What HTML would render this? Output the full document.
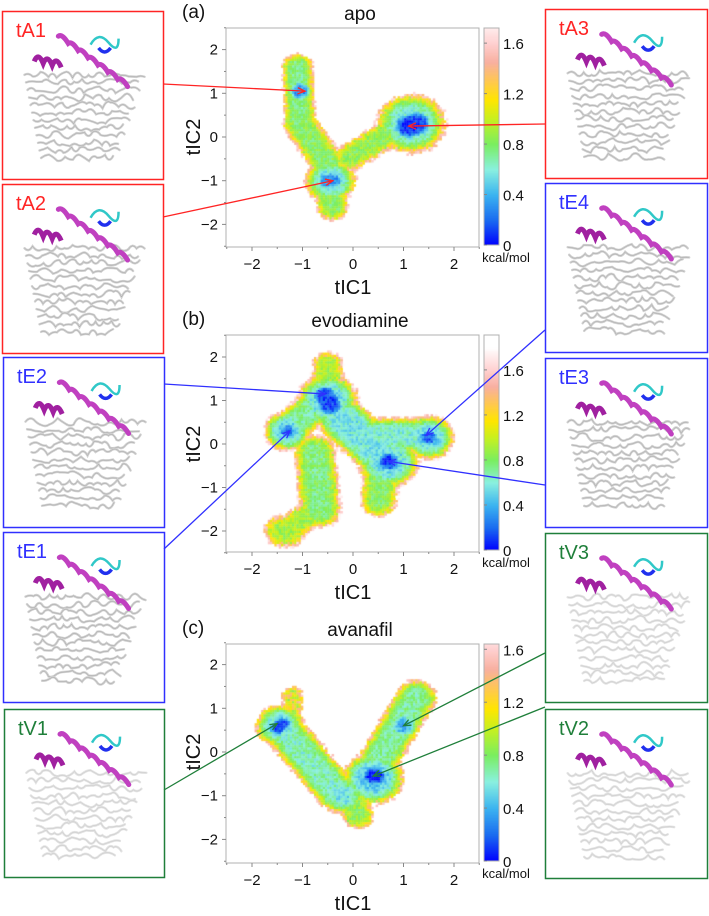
<!DOCTYPE html>
<html><head><meta charset="utf-8">
<style>
html,body{margin:0;padding:0;background:#fff;}
#fig{position:relative;width:709px;height:916px;overflow:hidden;font-family:"Liberation Sans",Arial,sans-serif;}
canvas{position:absolute;}
svg{position:absolute;left:0;top:0;}
</style></head>
<body>
<div id="fig">
<canvas id="hmA"></canvas>
<canvas id="hmB"></canvas>
<canvas id="hmC"></canvas>
<canvas id="cbA"></canvas>
<canvas id="cbB"></canvas>
<canvas id="cbC"></canvas>
<svg id="ov" width="709" height="916"></svg>
</div>
<script>
// ---- data ----
// segments: x1,y1,x2,y2 (tIC units), radius, minimum free energy (kcal/mol)
const apoSegments=[
 [-1.1,1.6,-1.05,0.4,0.3,0.75],[-1.05,1.05,-1.05,1.05,0.25,0.3],
 [-1.05,0.3,-0.5,-0.6,0.33,0.8],[-0.45,-1.0,-0.45,-1.0,0.5,0.55],
 [-0.5,-1.0,-0.4,-1.0,0.25,0.3],[-0.45,-1.3,-0.4,-1.6,0.3,0.8],
 [-0.05,-0.45,0.65,0.05,0.3,0.85],[1.15,0.3,1.15,0.3,0.68,0.55],
 [1.1,0.25,1.25,0.3,0.35,0.08]];
const evoSegments=[
 [-0.5,1.0,-0.5,1.0,0.6,0.5],[-0.55,1.1,-0.45,0.9,0.3,0.12],[-0.5,1.5,-0.5,1.8,0.3,0.9],
 [-1.3,0.3,-1.3,0.3,0.45,0.5],[-1.3,0.3,-1.3,0.3,0.2,0.2],[-1.3,0.35,-0.7,0.9,0.38,0.7],
 [-0.2,0.55,0.6,-0.3,0.5,0.55],[0.7,-0.4,0.7,-0.4,0.6,0.5],[0.7,-0.4,0.7,-0.4,0.28,0.12],
 [0.6,-0.5,0.5,-1.3,0.35,0.8],[1.5,0.15,1.5,0.15,0.5,0.5],[1.5,0.15,1.5,0.15,0.22,0.15],
 [0.5,0.2,1.3,0.2,0.4,0.6],[-0.75,-0.2,-0.65,-1.5,0.4,0.75],
 [-0.7,-1.5,-1.2,-1.9,0.3,0.9],[-1.4,-2.0,-1.3,-2.0,0.35,0.9]];
const avaSegments=[
 [-1.45,0.6,-1.45,0.6,0.48,0.55],[-1.5,0.55,-1.4,0.65,0.2,0.15],
 [-1.3,0.4,-0.3,-0.95,0.42,0.65],[-0.2,-1.0,-0.2,-1.0,0.4,0.55],
 [0.0,-1.2,0.1,-1.45,0.3,0.85],[0.4,-0.6,0.4,-0.6,0.6,0.45],[0.4,-0.55,0.45,-0.55,0.25,0.05],
 [0.5,-0.2,1.25,1.25,0.4,0.7],[1.0,0.6,1.0,0.6,0.3,0.4],[-1.2,0.9,-1.2,1.3,0.2,1.1]];
const colorMax=[1.72,1.91,1.64];
const cbTicks=[0,0.4,0.8,1.2,1.6];
const axisTicks=[-2,-1,0,1,2];
const panelTitles=["apo","evodiamine","avanafil"];
const panelLetters=["(a)","(b)","(c)"];
// ---- layout ----
const PX0=226,PX1=479,XZ=353,XU=50.5;
const panels=[{top:28,bot:247,yz:137,yu:43.7},{top:335,bot:552,yz:444,yu:43.5},{top:644,bot:863,yz:752,yu:43.7}];
const stops=[[0,'#0000ff'],[0.2,'#1a6cf0'],[0.4,'#3cb4f0'],[0.6,'#8af0e0'],[0.8,'#7aee60'],[1.0,'#c8f020'],[1.15,'#ffe600'],[1.3,'#ffc850'],[1.45,'#f8b0a0'],[1.6,'#ffd0d0'],[1.8,'#ffffff']];
function hex(c){return [parseInt(c.substr(1,2),16),parseInt(c.substr(3,2),16),parseInt(c.substr(5,2),16)];}
function cmap(v){if(v<=0)return hex(stops[0][1]);for(let i=1;i<stops.length;i++){if(v<=stops[i][0]){const a=stops[i-1],b=stops[i],t=(v-a[0])/(b[0]-a[0]);const ca=hex(a[1]),cb=hex(b[1]);return ca.map((x,k)=>Math.round(x+(cb[k]-x)*t));}}return [255,255,255];}
function hash(i,j,s){let h=(i*374761393+j*668265263+s*2147483647)|0;h=(h^(h>>>13))*1274126177|0;h=h^(h>>>16);return ((h>>>0)%10000)/10000;}
function segDist(px,py,s){const dx=s[2]-s[0],dy=s[3]-s[1];const L=dx*dx+dy*dy;let t=L?((px-s[0])*dx+(py-s[1])*dy)/L:0;t=Math.max(0,Math.min(1,t));const qx=s[0]+t*dx-px,qy=s[1]+t*dy-py;return Math.sqrt(qx*qx+qy*qy);}
function energy(segs,x,y){let e=99;for(const s of segs){const d=segDist(x,y,s)/s[4];const v=s[5]+(1.55-s[5])*d*d*d*d;if(v<e)e=v;}return e;}
function drawHeat(id,segs,p,k){
 const c=document.getElementById(id);const w=PX1-PX0,h=p.bot-p.top;c.width=w;c.height=h;c.style.left=PX0+'px';c.style.top=p.top+'px';
 const ctx=c.getContext('2d');const cell=2.2;
 for(let i=0;i*cell<w;i++)for(let j=0;j*cell<h;j++){
  const x=(PX0+i*cell+1-XZ)/XU,y=(p.yz-(p.top+j*cell+1))/p.yu;
  let e=energy(segs,x,y);if(e>3)continue;const n=hash(i,j,k+1);e+=(n-0.5)*(e>1.1?0.6:0.25);
  if(e>colorMax[k]-0.05)continue;
  const col=cmap(e);ctx.fillStyle='rgb('+col.join(',')+')';ctx.fillRect(i*cell,j*cell,cell+0.3,cell+0.3);}
}
function drawCB(id,p,k){
 const c=document.getElementById(id);c.width=15;c.height=p.bot-p.top-2;c.style.left='484px';c.style.top=p.top+'px';
 const ctx=c.getContext('2d');for(let j=0;j<c.height;j++){const v=colorMax[k]*(1-j/c.height);ctx.fillStyle='rgb('+cmap(v).join(',')+')';ctx.fillRect(0,j,15,1);}
}
const segsAll=[apoSegments,evoSegments,avaSegments];
['hmA','hmB','hmC'].forEach((id,k)=>drawHeat(id,segsAll[k],panels[k],k));
['cbA','cbB','cbC'].forEach((id,k)=>drawCB(id,panels[k],k));
// ---- SVG overlay ----
const NS='http://www.w3.org/2000/svg';const ov=document.getElementById('ov');
function mk(tag,attrs,parent,txt){const e=document.createElementNS(NS,tag);for(const a in attrs)e.setAttribute(a,attrs[a]);if(txt!==undefined)e.textContent=txt;(parent||ov).appendChild(e);return e;}
panels.forEach((p,k)=>{
 const g=mk('g',{});
 
 
 const fr=mk('rect',{x:PX0,y:p.top,width:PX1-PX0,height:p.bot-p.top,fill:'none',stroke:'#b0b0b0','stroke-width':1},g);
 
 
 const cbf=mk('rect',{x:484,y:p.top,width:15,height:p.bot-p.top-2,fill:'none',stroke:'#b0b0b0','stroke-width':1},g);
 
 
 for(let v=-2.5;v<=2.5;v+=0.5){const x=XZ+v*XU,y=p.yz-v*p.yu;const maj=Number.isInteger(v);
  mk('line',{x1:x,y1:p.bot,x2:x,y2:p.bot+(maj?4:2),stroke:'#888'},g);
  mk('line',{x1:PX0,y1:y,x2:PX0-(maj?4:2),y2:y,stroke:'#888'},g);}
 axisTicks.forEach(v=>{
  const t=mk('text',{x:XZ+v*XU,y:p.bot+22,'text-anchor':'middle','font-size':15,fill:'#111'},g,v<0?'\u2212'+(-v):String(v));
  
  
  const t2=mk('text',{x:PX0-8,y:p.yz-v*p.yu+5,'text-anchor':'end','font-size':15,fill:'#111'},g,v<0?'\u2212'+(-v):String(v));
  
  });
 const cbu=(p.bot-2-p.top)/colorMax[k];
 cbTicks.forEach(v=>{const y=p.bot-2-v*cbu;
  mk('line',{x1:484,y1:y,x2:487,y2:y,stroke:'#888'},g);
  const t=mk('text',{x:503,y:y+6,'font-size':15,fill:'#111'},g,String(v));
  
  });
 const u=mk('text',{x:506,y:p.bot+15,'text-anchor':'middle','font-size':13,fill:'#111'},g,'kcal/mol');
 
 
 const xt=mk('text',{x:XZ,y:p.bot+47,'text-anchor':'middle','font-size':20,fill:'#111'},g,'tIC1');
 
 
 const yt=mk('text',{x:0,y:0,'text-anchor':'middle','font-size':20,fill:'#111',transform:'translate(200,'+p.yz+') rotate(-90)'},g,'tIC2');
 
 
 const ti=mk('text',{x:360,y:p.top-8,'text-anchor':'middle','font-size':19,fill:'#111'},g,panelTitles[k]);
 
 
 const le=mk('text',{x:182,y:p.top-10,'font-size':19,fill:'#111'},g,panelLetters[k]);
 
 
});
// insets: label, x, y, w, h, color, anchor point (box edge), target (tIC1,tIC2), panel
const RED='#ff2424',BLUE='#3030ff',GREEN='#1f7f3a';
const insets=[
 ['tA1',2,11,161,168,RED,[163,84],[-0.95,1.05],0],
 ['tA2',2,184,161,169,RED,[163,217],[-0.4,-1.0],0],
 ['tA3',545,9,162,169,RED,[545,124],[1.1,0.25],0],
 ['tE4',545,183,162,169,BLUE,[545,330],[1.45,0.2],1],
 ['tE2',3,357,161,170,BLUE,[164,384],[-0.55,1.15],1],
 ['tE3',545,358,162,169,BLUE,[545,485],[0.7,-0.4],1],
 ['tE1',3,532,161,170,BLUE,[164,549],[-1.25,0.3],1],
 ['tV3',545,533,162,169,GREEN,[545,653],[1.0,0.6],2],
 ['tV1',4,709,160,168,GREEN,[164,790],[-1.5,0.65],2],
 ['tV2',545,709,162,169,GREEN,[545,707],[0.4,-0.55],2]];
function protein(g,x,y,w,h,seed,faded){
 const gc=faded?'#e2e2e2':'#d0d0d0';
 for(let r=0;r<12;r++){let d='';const yy=y+h*0.38+r*h*0.045;const x0=x+w*0.14+r*1.5,x1=x+w*0.86-r*2.5;
  d='M'+x0+' '+yy;for(let xx=x0;xx<x1;xx+=8){const o=(hash(r,xx|0,seed)-0.5)*12;d+=' Q'+(xx+4)+' '+(yy+o)+' '+(xx+8)+' '+(yy+(hash(xx|0,r,seed)-0.5)*7);}
  mk('path',{d:d,fill:'none',stroke:gc,'stroke-width':2.4,'stroke-linecap':'round'},g);
  mk('path',{d:d,fill:'none',stroke:'#8a8a8a','stroke-width':0.5,opacity:faded?0.3:0.6},g);}
 const hx0=x+w*0.35,hy0=y+h*0.15,hx1=x+w*0.78,hy1=y+h*0.45;let d='M'+hx0+' '+hy0;
 const n=7;for(let i=1;i<=n;i++){const t=i/n;const px=hx0+(hx1-hx0)*t,py=hy0+(hy1-hy0)*t;d+=' Q'+(px-6)+' '+(py-10)+' '+px+' '+py;}
 mk('path',{d:d,fill:'none',stroke:'#c040c0','stroke-width':5,'stroke-linecap':'round'},g);
 let d2='M'+(x+w*0.2)+' '+(y+h*0.3);for(let i=1;i<=3;i++){d2+=' q4 -10 9 2';}
 mk('path',{d:d2,fill:'none',stroke:'#a020a0','stroke-width':5},g);
 mk('path',{d:'M'+(x+w*0.55)+' '+(y+h*0.2)+' q8 -14 18 -2 t10 -4',fill:'none',stroke:'#30c8c8','stroke-width':2.5},g);
 mk('path',{d:'M'+(x+w*0.6)+' '+(y+h*0.22)+' q6 8 12 0',fill:'none',stroke:'#2030ee','stroke-width':3.5},g);
}
insets.forEach((b,i)=>{
 const g=mk('g',{});
 
 
 mk('rect',{x:b[1]+0.5,y:b[2]+0.5,width:b[3],height:b[4],fill:'#fff',stroke:b[5],'stroke-width':1.5},g);
 protein(g,b[1],b[2],b[3],b[4],i+3,b[8]==2);
 const t=mk('text',{x:b[1]+14,y:b[2]+26,'font-size':20,fill:b[5]},g,b[0]);
 
 
 const p=panels[b[8]];const tx=XZ+b[7][0]*XU,ty=p.yz-b[7][1]*p.yu;
 const ax=b[6][0],ay=b[6][1];
 const ln=mk('line',{x1:ax,y1:ay,x2:tx,y2:ty,stroke:b[5],'stroke-width':1.3});
 
 
 const ang=Math.atan2(ty-ay,tx-ax),L=8;
 mk('path',{d:'M'+(tx-L*Math.cos(ang-0.4))+' '+(ty-L*Math.sin(ang-0.4))+' L'+tx+' '+ty+' L'+(tx-L*Math.cos(ang+0.4))+' '+(ty-L*Math.sin(ang+0.4)),fill:'none',stroke:b[5],'stroke-width':1.3});
});
</script>
</body></html>
